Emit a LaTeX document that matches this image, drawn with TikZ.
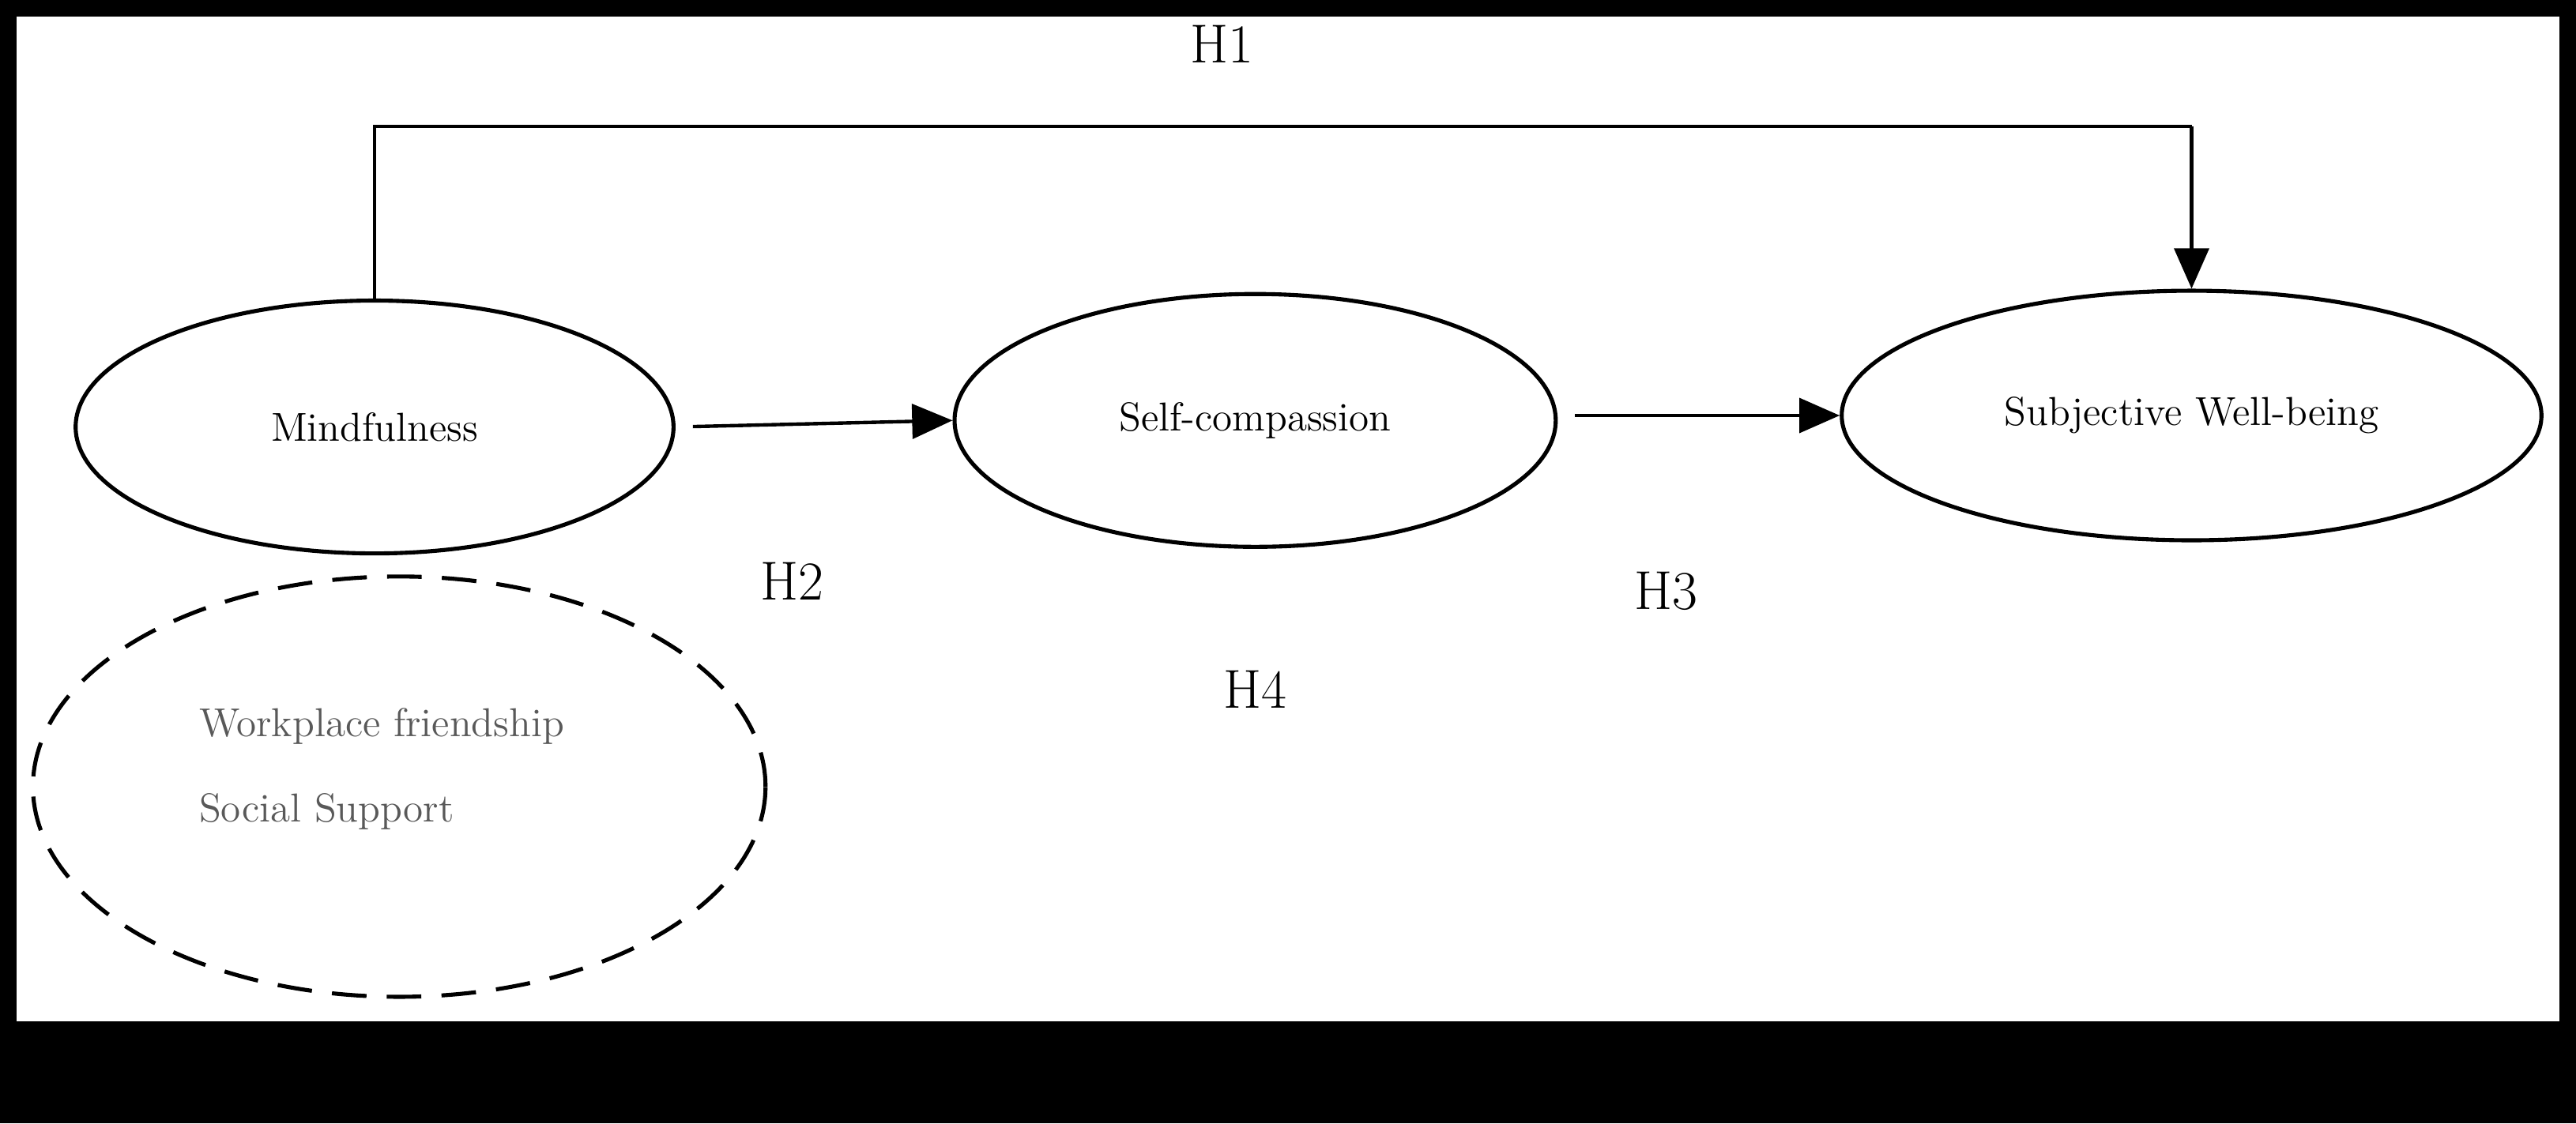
\documentclass[tikz,border=0pt]{standalone}
\usetikzlibrary{shapes.geometric,arrows.meta}
\tikzstyle{construct} = [ellipse, draw=black, line width=1.4pt, font=\fontsize{14}{16}\selectfont, inner sep=0pt]
\tikzstyle{moderator} = [ellipse, draw=black, line width=1.4pt, dash pattern=on 12pt off 7pt]
\tikzstyle{hyp} = [font=\fontsize{19}{22}\selectfont]
\tikzstyle{arrow} = [line width=1.2pt,-{Triangle[length=14pt,width=12pt]}]
\begin{document}
\begin{tikzpicture}[x=0.02cm,y=-0.02cm]
\fill[black] (0,0) rectangle (1568,684);
\fill[white] (10,10) rectangle (1558,622);
\useasboundingbox (0,0) rectangle (1568,684);

\node (mind) [construct, minimum width=7.28cm, minimum height=3.08cm] at (228,260) {Mindfulness};
\node (self) [construct, minimum width=7.32cm, minimum height=3.08cm] at (764,256) {Self-compassion};
\node (swb) [construct, minimum width=8.52cm, minimum height=3.04cm] at (1334,253) {Subjective Well-being};
\node (mod) [moderator, minimum width=8.92cm, minimum height=5.12cm] at (243,479) {};
\node (wf) [anchor=west, text=black!65, font=\fontsize{14}{16}\selectfont] at (115,442) {Workplace friendship};
\node (ss) [anchor=west, text=black!65, font=\fontsize{14}{16}\selectfont] at (115,494) {Social Support};

\node (h1) [hyp] at (744,27) {H1};
\node (h2) [hyp] at (482,354) {H2};
\node (h3) [hyp] at (1014,360) {H3};
\node (h4) [hyp] at (764,420) {H4};

\coordinate (top) at (0,77);
\draw [line width=1.2pt] (mind.north) |- (top -| swb.north);
\draw [arrow] (top -| swb.north) -- (swb.north);
\draw [arrow, shorten <=6pt] (mind.east) -- (self.west);
\draw [arrow, shorten <=6pt] (self.east |- swb.west) -- (swb.west);
\end{tikzpicture}
\end{document}
